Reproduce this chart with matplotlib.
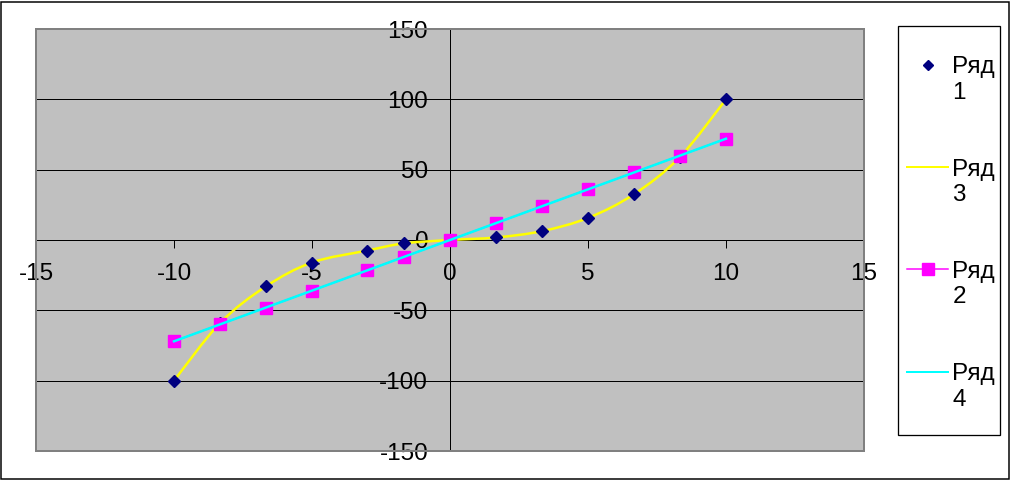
import matplotlib
matplotlib.use('Agg')
from matplotlib import pyplot as plt
from matplotlib.path import Path
from matplotlib.patches import PathPatch, Rectangle
from matplotlib.lines import Line2D

# data
x1 = [-10, -8.33, -6.67, -5, -3, -1.67, 0, 1.67, 3.33, 5, 6.67, 8.33, 10]
y1 = [-100, -59, -33, -16, -7.5, -2.4, 0, 1.8, 6.3, 15.7, 32.6, 59, 100]
x3 = x1
y3 = y1
x2 = [-10, -8.33, -6.67, -5, -3, -1.67, 0, 1.67, 3.33, 5, 6.67, 8.33, 10]
y2 = [-72, -60, -48, -36, -21.6, -12, 0, 12, 24, 36, 48, 60, 72]
x4 = [-10, 10]
y4 = [-72, 72]
names = ['Ряд\n1', 'Ряд\n3', 'Ряд\n2', 'Ряд\n4']
xticks = [-15, -10, -5, 0, 5, 10, 15]
yticks = [-150, -100, -50, 0, 50, 100, 150]

plt.rcParams['font.family'] = ['Liberation Sans', 'DejaVu Sans']
plt.rcParams['axes.unicode_minus'] = False
FS = 17.5
PX = 0.72  # one pixel in points at dpi 100

W, H = 1011, 480
fig = plt.figure(figsize=(W / 100, H / 100), dpi=100)
ax = fig.add_axes([36 / W, 29 / H, 828 / W, 422 / H])
ax.set_facecolor('#C0C0C0')
ax.set_xlim(-15, 15)
ax.set_ylim(-150, 150)


def smooth(xs, ys):
    pts = list(zip(xs, ys))
    verts = [pts[0]]
    codes = [Path.MOVETO]
    for i in range(len(pts) - 1):
        p0 = pts[i - 1] if i > 0 else pts[i]
        p1, p2 = pts[i], pts[i + 1]
        p3 = pts[i + 2] if i + 2 < len(pts) else pts[i + 1]
        c1 = (p1[0] + (p2[0] - p0[0]) / 6, p1[1] + (p2[1] - p0[1]) / 6)
        c2 = (p2[0] - (p3[0] - p1[0]) / 6, p2[1] - (p3[1] - p1[1]) / 6)
        verts += [c1, c2, p2]
        codes += [Path.CURVE4] * 3
    return Path(verts, codes)


ax.add_patch(PathPatch(smooth(x3, y3), fill=False, ec='#FFFF00', lw=2.5 * PX, zorder=3))
ax.plot(x1, y1, ls='none', marker='D', ms=6, color='#000080', mec='#000080', zorder=4)
ax.plot(x2, y2, '-', color='#FF00FF', lw=1.5 * PX, marker='s', ms=8, mec='#FF00FF', zorder=5)
ax.plot(x4, y4, '-', color='#00FFFF', lw=2.5 * PX, zorder=6)

ax.set_xticks(xticks)
ax.set_yticks(yticks)
ax.set_xticklabels([str(v) for v in xticks])
ax.set_yticklabels([str(v) for v in yticks])
ax.grid(axis='y', color='black', lw=PX, zorder=1)
ax.set_axisbelow(True)
ax.spines['left'].set_position(('data', 0))
ax.spines['bottom'].set_position(('data', 0))
for s in ['left', 'bottom']:
    ax.spines[s].set_color('black')
    ax.spines[s].set_linewidth(PX)
    ax.spines[s].set_zorder(2)
ax.spines['top'].set_visible(False)
ax.spines['right'].set_visible(False)
ax.tick_params(axis='x', length=5.8, width=PX, pad=10.5, labelsize=FS, direction='out')
ax.tick_params(axis='y', length=5.2, width=PX, pad=10.5, labelsize=FS, direction='out')
ax.add_patch(Rectangle((0, 0), 1, 1, transform=ax.transAxes, fill=False,
                       ec='#808080', lw=2 * PX, clip_on=False, zorder=7))

# figure border
fig.patches.append(Rectangle((1 / W, 1 / H), 1007.5 / W, 477.5 / H, transform=fig.transFigure,
                             fill=False, ec='black', lw=1.5 * PX))


# legend, laid out in pixels from the top left
def fx(px):
    return px / W


def fy(py):
    return 1 - py / H


fig.patches.append(Rectangle((fx(898), fy(435)), 102 / W, 409 / H, transform=fig.transFigure,
                             fill=False, ec='black', lw=1.3 * PX))
styles = [
    dict(ls='none', marker='D', ms=5.5, color='#000080'),
    dict(ls='-', color='#FFFF00', lw=2 * PX),
    dict(ls='-', color='#FF00FF', lw=1.5 * PX, marker='s', ms=8),
    dict(ls='-', color='#00FFFF', lw=2 * PX),
]
for i, (name, st) in enumerate(zip(names, styles)):
    yc = 65 + 102.2 * i
    xs = [fx(907), fx(948)] if st['ls'] == '-' else [fx(927.7)]
    ys = [fy(yc)] * len(xs)
    if 'marker' in st and st['ls'] == '-':
        fig.lines.append(Line2D(xs, ys, transform=fig.transFigure, ls='-', color=st['color'], lw=st['lw']))
        fig.lines.append(Line2D([fx(927.7)], [fy(yc)], transform=fig.transFigure, ls='none',
                                marker=st['marker'], ms=st['ms'], color=st['color']))
    else:
        fig.lines.append(Line2D(xs, ys, transform=fig.transFigure, **st))
    first, second = name.split('\n')
    fig.text(fx(952.5), fy(yc + 8.5), first, fontsize=FS, va='baseline', ha='left')
    fig.text(fx(952.5), fy(yc + 34), second, fontsize=FS, va='baseline', ha='left')

fig.savefig('out.png', dpi=100)
